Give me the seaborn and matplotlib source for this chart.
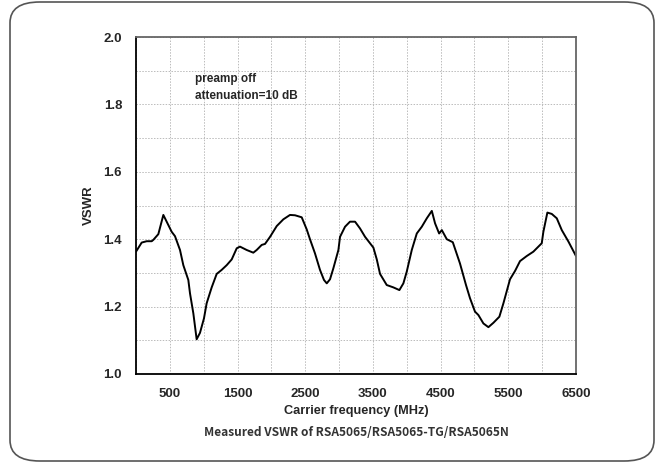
import numpy as np
import pandas as pd
import seaborn as sns
import matplotlib.pyplot as plt
from matplotlib.patches import FancyBboxPatch
from matplotlib.ticker import MultipleLocator

# values
freq_mhz = [0, 84, 158, 232, 256, 330, 404, 453, 527, 576, 650, 699, 773, 798, 847,
            896, 945, 1004, 1044, 1118, 1192, 1266, 1340, 1414, 1488, 1536, 1635,
            1733, 1783, 1857, 1906, 1980, 2079, 2177, 2275, 2349, 2448, 2522, 2570,
            2644, 2718, 2777, 2818, 2866, 2916, 2990, 3014, 3088, 3161, 3236, 3309,
            3384, 3507, 3557, 3605, 3704, 3802, 3891, 3950, 4000, 4074, 4148, 4222,
            4296, 4370, 4418, 4478, 4518, 4591, 4680, 4786, 4875, 4934, 5008, 5058,
            5132, 5206, 5280, 5368, 5428, 5525, 5600, 5673, 5772, 5870, 5994, 6018,
            6077, 6142, 6216, 6290, 6388, 6500]
vswr = [1.363, 1.390, 1.394, 1.394, 1.398, 1.415, 1.472, 1.452, 1.422, 1.409, 1.368,
        1.323, 1.279, 1.239, 1.180, 1.103, 1.122, 1.165, 1.210, 1.257, 1.297, 1.309,
        1.323, 1.340, 1.373, 1.378, 1.368, 1.360, 1.368, 1.383, 1.386, 1.407, 1.439,
        1.459, 1.472, 1.471, 1.465, 1.429, 1.400, 1.358, 1.309, 1.279, 1.269, 1.281,
        1.314, 1.368, 1.407, 1.437, 1.452, 1.452, 1.432, 1.407, 1.375, 1.340, 1.297,
        1.264, 1.257, 1.249, 1.269, 1.304, 1.368, 1.417, 1.437, 1.462, 1.484, 1.447,
        1.417, 1.427, 1.400, 1.391, 1.328, 1.264, 1.225, 1.185, 1.175, 1.150, 1.139,
        1.152, 1.170, 1.210, 1.281, 1.306, 1.335, 1.350, 1.363, 1.388, 1.422, 1.479,
        1.475, 1.462, 1.427, 1.393, 1.350]
xtick_labels = ["500", "1500", "2500", "3500", "4500", "5500", "6500"]

df = pd.DataFrame({"freq": freq_mhz, "vswr": vswr})

sns.set_style("white")
plt.rcParams["font.family"] = ["Liberation Sans", "DejaVu Sans"]

fig = plt.figure(figsize=(6.62, 4.62), dpi=100)
ax = fig.add_axes([136 / 662, 1 - 374 / 462, 440 / 662, 337 / 462])

# rounded frame around the whole figure
frame = FancyBboxPatch((10 / 662, 1 / 462), 644 / 662, 459 / 462,
                       boxstyle="round,pad=0,rounding_size=0.045",
                       transform=fig.transFigure, fill=False,
                       edgecolor="#555555", linewidth=1.2, zorder=0)
fig.patches.append(frame)

sns.lineplot(data=df, x="freq", y="vswr", ax=ax, color="black", linewidth=1.4)

ax.set_xlim(0, 6500)
ax.set_ylim(1.0, 2.0)
ax.set_xticks([int(t) for t in xtick_labels])
ax.set_xticklabels(xtick_labels)
ax.yaxis.set_major_locator(MultipleLocator(0.2))
ax.yaxis.set_minor_locator(MultipleLocator(0.1))
ax.set_yticklabels([f"{v:.1f}" for v in ax.get_yticks()])
ax.xaxis.set_minor_locator(MultipleLocator(500))

ax.grid(True, which="both", color="#bbbbbb", linestyle=(0, (1.5, 1.5)), linewidth=0.7)
ax.set_axisbelow(True)

ax.tick_params(axis="both", which="major", direction="out", length=4, width=1,
               labelsize=9.5, pad=6)
ax.tick_params(axis="both", which="minor", direction="out", length=2.5, width=0.8)
for lab in ax.get_xticklabels() + ax.get_yticklabels():
    lab.set_fontweight("bold")

for side in ["left", "bottom"]:
    ax.spines[side].set_color("black")
    ax.spines[side].set_linewidth(1.3)
for side in ["top", "right"]:
    ax.spines[side].set_color("#666666")
    ax.spines[side].set_linewidth(1.3)

ax.set_xlabel("Carrier frequency (MHz)", fontsize=9.2, fontweight="bold", labelpad=4)
ax.set_ylabel("VSWR", fontsize=9.5, fontweight="bold", labelpad=6)

ax.text(0.135, 0.875, "preamp off", transform=ax.transAxes, fontsize=8.5,
        fontweight="bold", va="center")
ax.text(0.135, 0.825, "attenuation=10 dB", transform=ax.transAxes, fontsize=8.5,
        fontweight="bold", va="center")

fig.text(356 / 662, 1 - 432 / 462, "Measured VSWR of RSA5065/RSA5065-TG/RSA5065N",
         ha="center", va="center", fontsize=8.6, fontweight="bold",
         family=["Noto Sans CJK SC", "DejaVu Sans"], color="#333333")

fig.savefig("out.png", dpi=100)
